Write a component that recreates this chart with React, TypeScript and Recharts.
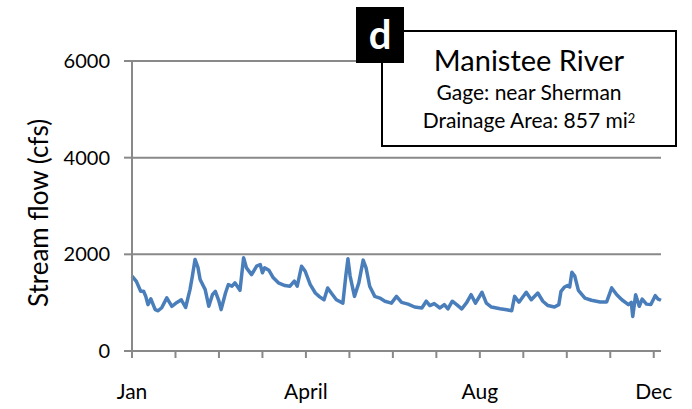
import React from 'react';
import { LineChart, Line, XAxis, YAxis, CartesianGrid } from 'recharts';

// Day of year (0-365) and stream flow (cfs)
const days: number[] = [
  0, 3, 6, 8, 9.5, 11, 13, 16, 18, 20.5, 24, 27.5, 31, 34, 37, 40, 41.5, 43.5, 45.5, 47,
  50.5, 53, 55.5, 57.5, 60, 61.5, 64.5, 66.5, 69, 71, 74.5, 77, 79, 82.5, 86, 88.5, 90, 91.5,
  94.5, 97.5, 101, 105.5, 109, 112, 114, 117, 119.5, 123, 126.5, 129.5, 132.5, 135, 137.5,
  141, 145.5, 147.5, 149, 150.5, 153.5, 156.5, 159.5, 161.5, 164, 167.5, 171, 174.5, 179,
  182.5, 186, 190.5, 195, 200, 203, 205.5, 208.5, 212.5, 215.5, 218, 221, 224, 227.5, 231,
  234, 237, 241.5, 244.5, 248, 254, 258.5, 262, 264, 267, 272, 275.5, 280, 283.5, 287, 291.5,
  294.5, 296, 298.5, 300.5, 302, 303.5, 305.5, 308, 312.5, 317, 323, 327.5, 331, 334.5, 338,
  342.5, 344.5, 345.5, 347.5, 350, 352, 355, 358, 361, 363, 365,
];
const flows: number[] = [
  1550, 1440, 1235, 1235, 1130, 960, 1080, 855, 833, 895, 1100, 925, 1005, 1060, 900, 1270, 1520, 1895, 1730, 1480,
  1270, 925, 1165, 1235, 1030, 855, 1200, 1375, 1340, 1410, 1255, 1930, 1720, 1580, 1755, 1790, 1620, 1720,
  1670, 1515, 1410, 1355, 1340, 1445, 1340, 1755, 1650, 1375, 1200, 1120, 1060, 1305, 1200,
  1060, 990, 1550, 1910, 1550, 1130, 1410, 1880, 1720, 1340, 1130, 1095, 1030, 990,
  1130, 1005, 970, 910, 890, 1030, 940, 980, 890, 960, 870, 1030, 960, 870, 1005,
  1165, 990, 1215, 990, 910, 875, 855, 833, 1130, 1010, 1215, 1060, 1200, 1030, 940, 910,
  960, 1235, 1325, 1355, 1325, 1630, 1550, 1255, 1095, 1050, 1015, 1015, 1305, 1165, 1060,
  960, 1005, 715, 1165, 925, 1075, 970, 960, 1145, 1075, 1050,
];

const xTicks: number[] = [0, 30, 60, 90, 120, 150, 180, 210, 240, 270, 300, 330, 360];
const xTickLabels: Record<number, string> = { 0: 'Jan', 120: 'April', 240: 'Aug', 360: 'Dec' };
const yTicks: number[] = [0, 2000, 4000, 6000];

const data = days.map((d, i) => ({ day: d, flow: flows[i] }));

const FONT = 'Lato, "Open Sans", sans-serif';
const GRID = '#898989';

export default function App() {
  return (
    <div style={{ position: 'absolute', left: 0, top: 0, width: 692, height: 409, background: '#fff', fontFamily: FONT }}>
      <LineChart
        width={692}
        height={409}
        data={data}
        margin={{ top: 61, right: 31, bottom: 8, left: 72 }}
      >
        <CartesianGrid vertical={false} stroke={GRID} strokeWidth={2} />
        <XAxis
          dataKey="day"
          type="number"
          domain={[0, 365]}
          ticks={xTicks}
          interval={0}
          height={50}
          tickFormatter={(v: number) => xTickLabels[v] ?? ''}
          axisLine={{ stroke: GRID, strokeWidth: 2 }}
          tickLine={{ stroke: GRID, strokeWidth: 2 }}
          tickSize={7}
          tickMargin={26}
          tick={{ fill: '#000', fontSize: 21, fontFamily: FONT }}
        />
        <YAxis
          type="number"
          domain={[0, 6000]}
          ticks={yTicks}
          interval={0}
          width={60}
          axisLine={{ stroke: GRID, strokeWidth: 2 }}
          tickLine={{ stroke: GRID, strokeWidth: 2 }}
          tickSize={8}
          tickMargin={14}
          tick={{ fill: '#000', fontSize: 20, fontFamily: FONT }}
        />
        <Line
          type="linear"
          dataKey="flow"
          stroke="#4a7ebb"
          strokeWidth={3.5}
          strokeLinejoin="round"
          dot={false}
          isAnimationActive={false}
        />
      </LineChart>

      <div
        style={{
          position: 'absolute', left: 38, top: 213, transform: 'translate(-50%, -50%) rotate(-90deg)',
          whiteSpace: 'nowrap', fontSize: 26, color: '#000', lineHeight: 1,
        }}
      >
        Stream flow (cfs)
      </div>

      <div
        style={{
          position: 'absolute', left: 381, top: 30, width: 296, height: 117, boxSizing: 'border-box',
          border: '2px solid #000', background: '#fff', textAlign: 'center', color: '#000',
        }}
      >
        <div style={{ fontSize: 29, lineHeight: '32px', marginTop: 12 }}>Manistee River</div>
        <div style={{ fontSize: 21, lineHeight: '28px', marginTop: 2 }}>Gage: near Sherman</div>
        <div style={{ fontSize: 21, lineHeight: '28px' }}>
          Drainage Area: 857 mi<sup style={{ fontSize: 13, verticalAlign: 'top', position: 'relative', top: -2 }}>2</sup>
        </div>
      </div>

      <div
        style={{
          position: 'absolute', left: 356, top: 7, width: 48, height: 56, background: '#000', color: '#fff',
          fontWeight: 700, fontSize: 40, lineHeight: '54px', textAlign: 'center',
        }}
      >
        d
      </div>
    </div>
  );
}
